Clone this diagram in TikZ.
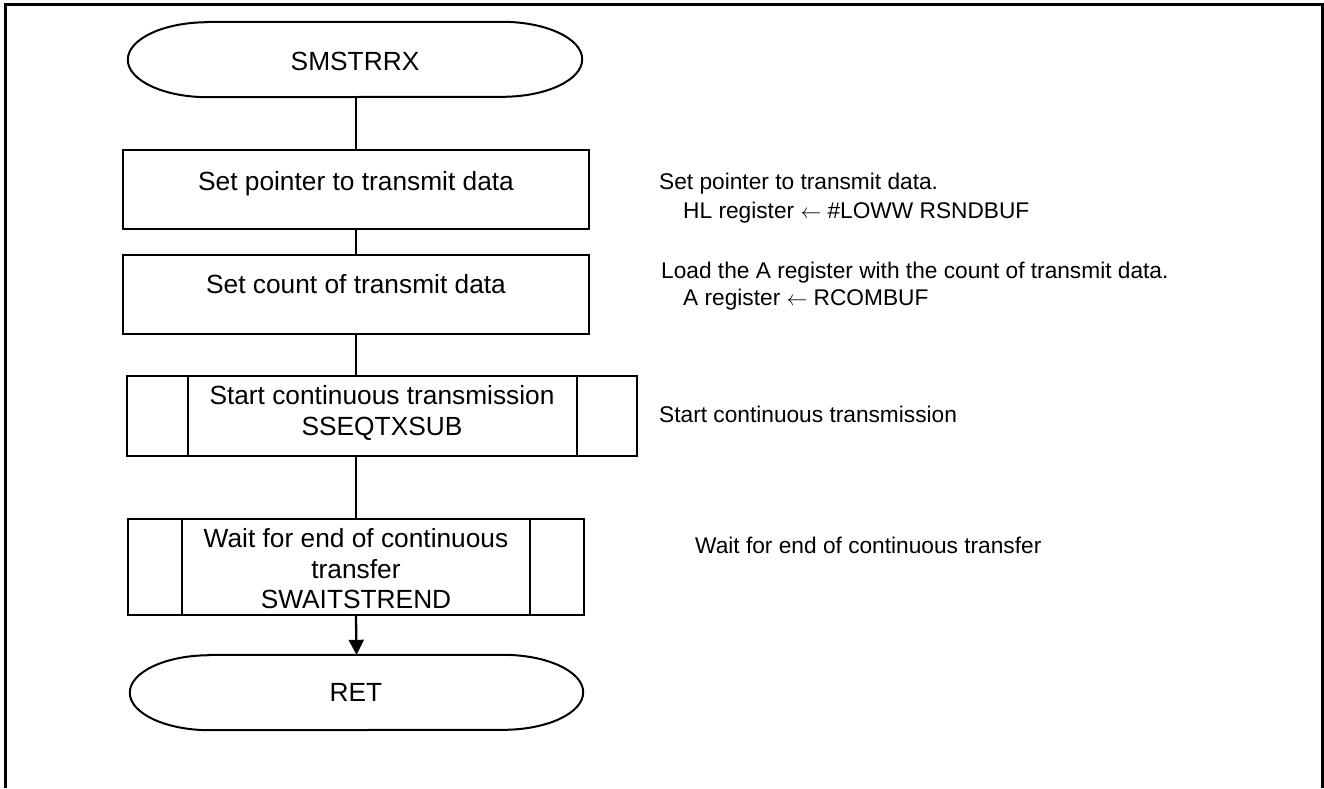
\documentclass[tikz,border=0pt]{standalone}
\usepackage{fontspec}
\setmainfont{Liberation Sans}
\usetikzlibrary{arrows.meta}
\begin{document}
\begin{tikzpicture}[x=1pt,y=-1pt,
  shp/.style={draw, line width=2pt},
  boxn/.style={shp, inner sep=0pt},
  ghost/.style={inner sep=0pt},
  conn/.style={line width=2.3pt},
  maintxt/.style={anchor=base, inner sep=0pt, font=\fontsize{26.3}{31}\selectfont},
  sidetxt/.style={anchor=base west, inner sep=0pt, font=\fontsize{22.7}{27}\selectfont}]
\useasboundingbox (0,0) rectangle (1324,788);
% frame
\draw[line width=3pt] (5,788) -- (5,4) -- (1322,4) -- (1322,788);
% terminal start
\node[ghost, minimum width=454pt, minimum height=75pt] (start) at (355,59.5) {};
\draw[shp] ([xshift=80pt]start.north west) -- ([xshift=-80pt]start.north east)
  arc[start angle=90, end angle=-90, x radius=80pt, y radius=37.5pt]
  -- ([xshift=80pt]start.south west)
  arc[start angle=270, end angle=90, x radius=80pt, y radius=37.5pt] -- cycle;
\node[maintxt] (tstart) at (355,70) {SMSTRRX};
% box 1
\node[boxn, minimum width=466pt, minimum height=79pt] (b1) at (356,189.5) {};
\node[maintxt] (tb1) at (356,190) {Set pointer to transmit data};
% box 2
\node[boxn, minimum width=466pt, minimum height=79pt] (b2) at (356,294.5) {};
\node[maintxt] (tb2) at (356,293) {Set count of transmit data};
% box 3 (predefined process)
\node[boxn, minimum width=510pt, minimum height=80pt] (b3) at (382,416) {};
\draw[shp] ([xshift=62pt]b3.north west) -- ([xshift=62pt]b3.south west);
\draw[shp] ([xshift=-61pt]b3.north east) -- ([xshift=-61pt]b3.south east);
\node[maintxt] (tb3a) at (382,404) {Start continuous transmission};
\node[maintxt] (tb3b) at (382,435) {SSEQTXSUB};
% box 4 (predefined process)
\node[boxn, minimum width=456pt, minimum height=96pt] (b4) at (356,567) {};
\draw[shp] ([xshift=55pt]b4.north west) -- ([xshift=55pt]b4.south west);
\draw[shp] ([xshift=-55pt]b4.north east) -- ([xshift=-55pt]b4.south east);
\node[maintxt] (tb4a) at (356,547) {Wait for end of continuous};
\node[maintxt] (tb4b) at (356,578) {transfer};
\node[maintxt] (tb4c) at (356,608) {SWAITSTREND};
% terminal end
\node[ghost, minimum width=453pt, minimum height=75pt] (ret) at (356.5,692.5) {};
\draw[shp] ([xshift=80pt]ret.north west) -- ([xshift=-80pt]ret.north east)
  arc[start angle=90, end angle=-90, x radius=80pt, y radius=37.5pt]
  -- ([xshift=80pt]ret.south west)
  arc[start angle=270, end angle=90, x radius=80pt, y radius=37.5pt] -- cycle;
\node[maintxt] (tret) at (356,701) {RET};
% connectors
\draw[conn] (b1.north |- start.south) -- (b1.north);
\draw[conn] (b1.south) -- (b2.north);
\draw[conn] (b2.south) -- (b2.south |- b3.north);
\draw[conn] (b4.north |- b3.south) -- (b4.north);
\draw[conn, -{Triangle[length=15pt, width=15pt]}] (b4.south) -- (ret.north);
% side comments
\node[sidetxt] (c1a) at (659,189) {Set pointer to transmit data.};
\node[sidetxt] (c1b) at (683,218) {HL register $\leftarrow$ \#LOWW RSNDBUF};
\node[sidetxt] (c2a) at (661,278) {Load the A register with the count of transmit data.};
\node[sidetxt] (c2b) at (683,305) {A register $\leftarrow$ RCOMBUF};
\node[sidetxt] (c3) at (659,422) {Start continuous transmission};
\node[sidetxt] (c4) at (695,553) {Wait for end of continuous transfer};
\end{tikzpicture}
\end{document}
